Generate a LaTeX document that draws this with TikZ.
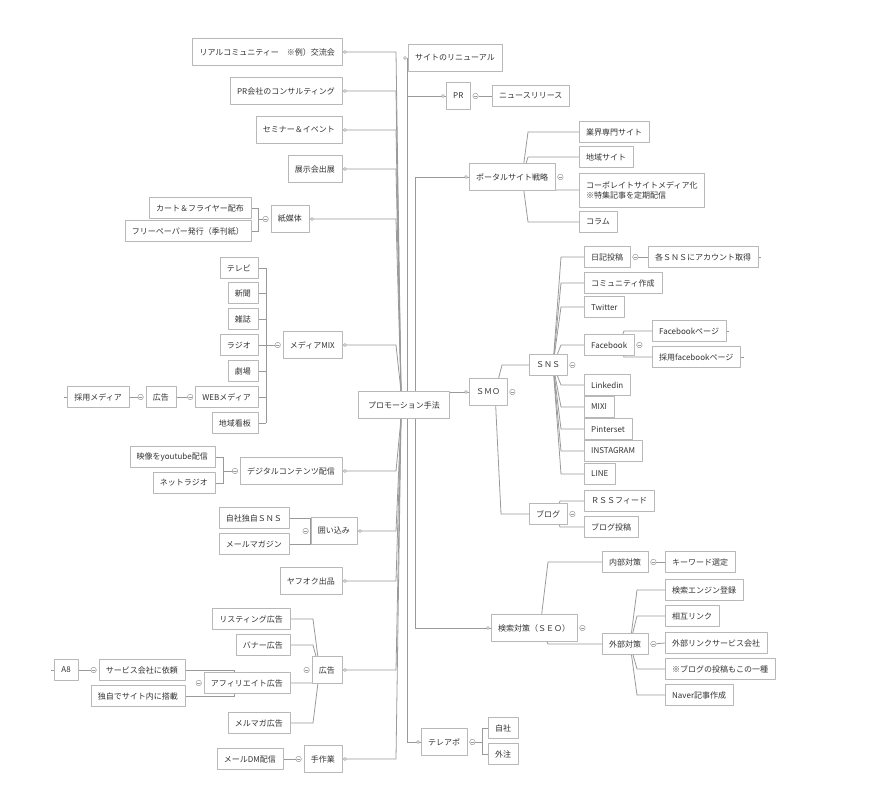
\documentclass[tikz,border=0pt]{standalone}
\usepackage{fontspec}
\newfontfamily\cjk{Noto Sans CJK JP}
\usetikzlibrary{calc}
\pgfdeclarelayer{background}
\pgfsetlayers{background,main}
\definecolor{linegray}{HTML}{9A9A9A}
\definecolor{boxgray}{HTML}{B8B8B8}
\definecolor{textgray}{HTML}{333333}

\begin{document}
\begin{tikzpicture}[x=1pt,y=-1pt,line join=round,line cap=round,
    box/.style={draw=boxgray,fill=white,text=textgray,font={\cjk\fontsize{8}{10}\selectfont},
      inner xsep=7pt,inner ysep=2pt,minimum height=21pt},
    topic/.style={box,minimum height=27pt},
    edge/.style={draw=linegray,line width=0.8pt},
    fold/.style={circle,draw=linegray,fill=white,line width=0.5pt,inner sep=0pt,minimum size=5.5pt,
      path picture={\draw[linegray,line width=0.5pt]
        ([xshift=-1.5pt]path picture bounding box.center) -- ([xshift=1.5pt]path picture bounding box.center);}},
    port/.style={circle,draw=linegray,fill=white,line width=0.5pt,inner sep=0pt,minimum size=3pt}]
  \useasboundingbox (0,0) rectangle (871,792);

  % centre
  \node[topic,minimum width=91pt] (root) at (404,405) {プロモーション手法};

  % left side
  \node[topic,anchor=east] (real) at (342,52) {リアルコミュニティー　※例）交流会};
  \node[topic,anchor=east] (consult) at (342,91) {PR会社のコンサルティング};
  \node[topic,anchor=east] (seminar) at (342,130) {セミナー＆イベント};
  \node[topic,anchor=east] (expo) at (342,169) {展示会出展};
  \node[topic,anchor=east] (paper) at (309,219) {紙媒体};
  \node[topic,anchor=east] (mix) at (342,345) {メディアMIX};
  \node[topic,anchor=east] (digital) at (342,471) {デジタルコンテンツ配信};
  \node[topic,anchor=east] (enclose) at (357,531) {囲い込み};
  \node[topic,anchor=east] (auction) at (342,581) {ヤフオク出品};
  \node[topic,anchor=east] (ads) at (342,670) {広告};
  \node[topic,anchor=east] (manual) at (342,759) {手作業};

  \node[box,anchor=east] (flyer) at (251,208) {カート＆フライヤー配布};
  \node[box,anchor=east] (freepaper) at (251,231) {フリーペーパー発行（季刊紙）};

  \node[box,anchor=east] (tv) at (258,268) {テレビ};
  \node[box,anchor=east] (news) at (258,293) {新聞};
  \node[box,anchor=east] (magazine) at (258,319) {雑誌};
  \node[box,anchor=east] (radio) at (258,345) {ラジオ};
  \node[box,anchor=east] (theater) at (258,371) {劇場};
  \node[box,anchor=east] (webmedia) at (258,397) {WEBメディア};
  \node[box,anchor=east] (signboard) at (258,423) {地域看板};
  \node[box,anchor=east] (webad) at (176,397) {広告};
  \node[box,anchor=east] (recruit) at (129,397) {採用メディア};

  \node[box,anchor=east] (youtube) at (215,457) {映像をyoutube配信};
  \node[box,anchor=east] (netradio) at (215,483) {ネットラジオ};

  \node[box,anchor=east] (ownsns) at (289,518) {自社独自ＳＮＳ};
  \node[box,anchor=east] (mailmag) at (289,544) {メールマガジン};

  \node[box,anchor=east] (listing) at (290,619) {リスティング広告};
  \node[box,anchor=east] (banner) at (290,645) {バナー広告};
  \node[box,anchor=east] (affiliate) at (290,683) {アフィリエイト広告};
  \node[box,anchor=east] (mailad) at (290,723) {メルマガ広告};
  \node[box,anchor=east] (agency) at (185,670) {サービス会社に依頼};
  \node[box,anchor=east] (inhouse) at (185,696) {独自でサイト内に搭載};
  \node[box,anchor=east] (aeight) at (78,670) {A8};

  \node[box,anchor=east] (dm) at (283,759) {メールDM配信};

  % right side
  \node[topic,anchor=west] (renewal) at (408,58) {サイトのリニューアル};
  \node[topic,anchor=west] (pr) at (446,96) {PR};
  \node[topic,anchor=west] (portal) at (469,177) {ポータルサイト戦略};
  \node[topic,anchor=west] (smo) at (469,392) {ＳＭＯ};
  \node[topic,anchor=west] (seo) at (491,628) {検索対策（ＳＥＯ）};
  \node[topic,anchor=west] (teleapo) at (421,742) {テレアポ};

  \node[box,anchor=west] (release) at (492,96) {ニュースリリース};
  \node[box,anchor=west] (trade) at (579,132) {業界専門サイト};
  \node[box,anchor=west] (region) at (579,157) {地域サイト};
  \node[box,anchor=west,align=left,minimum height=34pt] (corporate) at (579,190)
    {コーポレイトサイトメディア化\\※特集記事を定期配信};
  \node[box,anchor=west] (column) at (579,222) {コラム};

  \node[box,anchor=west] (sns) at (529,365) {ＳＮＳ};
  \node[box,anchor=west] (blog) at (529,514) {ブログ};
  \node[box,anchor=west] (diary) at (584,257) {日記投稿};
  \node[box,anchor=west] (community) at (584,283) {コミュニティ作成};
  \node[box,anchor=west] (twitter) at (584,307) {Twitter};
  \node[box,anchor=west] (facebook) at (584,345) {Facebook};
  \node[box,anchor=west] (linkedin) at (584,385) {Linkedin};
  \node[box,anchor=west] (mixi) at (584,407) {MIXI};
  \node[box,anchor=west] (pinterest) at (584,429) {Pinterset};
  \node[box,anchor=west] (instagram) at (584,451) {INSTAGRAM};
  \node[box,anchor=west] (lineapp) at (584,474) {LINE};
  \node[box,anchor=west] (account) at (648,257) {各ＳＮＳにアカウント取得};
  \node[box,anchor=west] (fbpage) at (652,331) {Facebookページ};
  \node[box,anchor=west] (fbrecruit) at (652,357) {採用facebookページ};
  \node[box,anchor=west] (rss) at (584,501) {ＲＳＳフィード};
  \node[box,anchor=west] (post) at (584,527) {ブログ投稿};

  \node[box,anchor=west] (inner) at (602,562) {内部対策};
  \node[box,anchor=west] (outer) at (602,644) {外部対策};
  \node[box,anchor=west] (keyword) at (665,562) {キーワード選定};
  \node[box,anchor=west] (engine) at (665,590) {検索エンジン登録};
  \node[box,anchor=west] (mutual) at (665,616) {相互リンク};
  \node[box,anchor=west] (linksvc) at (665,643) {外部リンクサービス会社};
  \node[box,anchor=west] (blogpost) at (665,669) {※ブログの投稿もこの一種};
  \node[box,anchor=west] (naver) at (665,695) {Naver記事作成};

  \node[box,anchor=west] (ownco) at (488,728) {自社};
  \node[box,anchor=west] (outsource) at (488,754) {外注};

  % folds and ports
  \foreach \n in {paper,mix,webmedia,webad,digital,enclose,ads,affiliate,agency,manual}
    \node[fold] (f-\n) at ([xshift=-5pt]\n.west) {};
  \foreach \n in {pr,portal,smo,sns,diary,facebook,blog,seo,inner,outer,teleapo}
    \node[fold] (f-\n) at ([xshift=5pt]\n.east) {};
  \foreach \n in {real,consult,seminar,expo,paper,mix,digital,enclose,auction,ads,manual}
    \node[port] at ([xshift=3pt]\n.east) {};
  \foreach \n in {renewal,pr,portal,smo,seo,teleapo}
    \node[port] at ([xshift=-3pt]\n.west) {};

  \begin{pgfonlayer}{background}
    % from the centre
    \coordinate (lbus) at (396,0);
    \coordinate (rbus) at (407,0);
    \coordinate (sbus) at (415,0);
    \foreach \n in {real,consult,seminar,expo,paper,mix}
      \draw[edge] ([xshift=-3pt]root.north) -- (lbus |- \n.east) -- (\n.east);
    \foreach \n in {digital,enclose,auction,ads,manual}
      \draw[edge] ([xshift=-3pt]root.south) -- (lbus |- \n.east) -- (\n.east);
    \foreach \n in {renewal,pr}
      \draw[edge] (rbus |- root.north) -- (rbus |- \n.west) -- (\n.west);
    \draw[edge] (sbus |- root.north) -- (sbus |- portal.west) -- (portal.west);
    \draw[edge] (sbus |- smo.west) -- (smo.west);
    \draw[edge] (sbus |- root.south) -- (sbus |- seo.west) -- (seo.west);
    \draw[edge] (rbus |- root.south) -- (rbus |- teleapo.west) -- (teleapo.west);

    % left branches
    \coordinate (pb) at ([xshift=7pt]flyer.east);
    \draw[edge] (flyer.east) -- (pb) -- (pb |- freepaper.east) -- (freepaper.east);
    \draw[edge] (pb |- f-paper) -- (f-paper);

    \coordinate (mb) at ([xshift=8pt]tv.east);
    \foreach \n in {tv,news,magazine,radio,theater,webmedia,signboard}
      \draw[edge] (\n.east) -- (mb |- \n.east);
    \draw[edge] (mb |- tv.east) -- (mb |- signboard.east);
    \draw[edge] (mb |- f-mix) -- (f-mix);
    \draw[edge] (webad.east) -- (f-webmedia);
    \draw[edge] (recruit.east) -- (f-webad);
    \draw[edge] (recruit.west) -- ++(-3,0);

    \coordinate (db) at ([xshift=8pt]youtube.east);
    \draw[edge] (youtube.east) -- (db) -- (db |- netradio.east) -- (netradio.east);
    \draw[edge] (db |- f-digital) -- (f-digital);

    \foreach \n in {ownsns,mailmag}
      \draw[edge] (\n.east) -- (enclose.west |- \n.east);
    \draw[edge] (enclose.west |- ownsns.east) -- (enclose.west |- mailmag.east);

    \coordinate (ab) at (313,0);
    \foreach \n in {listing,banner,affiliate,mailad}
      \draw[edge] ([xshift=8pt]ads.west) -- (ab |- \n.east) -- (\n.east);
    \coordinate (fb) at (234,0);
    \foreach \n in {agency,inhouse}
      \draw[edge] (\n.east) -- (fb |- \n.east) -- (fb |- affiliate.east);
    \draw[edge] (aeight.east) -- (f-agency);
    \draw[edge] (aeight.west) -- ++(-3,0);
    \draw[edge] (dm.east) -- (f-manual);

    % right branches
    \draw[edge] (f-pr) -- (release.west);
    \coordinate (ps) at (522,177);
    \foreach \n in {trade,region,corporate,column}
      \draw[edge] (ps) -- (528,0 |- \n.west) -- (\n.west);

    \draw[edge] (495,392) -- (502,0 |- sns.west) -- (sns.west);
    \draw[edge] (495,392) -- (501,0 |- blog.west) -- (blog.west);
    \foreach \n in {diary,community,twitter,facebook,linkedin,mixi,pinterest,instagram,lineapp}
      \draw[edge] (553,365) -- (561,0 |- \n.west) -- (\n.west);
    \draw[edge] (f-diary) -- (account.west);
    \draw[edge] (account.east) -- ++(3,0);
    \foreach \n in {fbpage,fbrecruit}
      {\draw[edge] (619,345) -- (624,0 |- \n.west) -- (\n.west);
       \draw[edge] (\n.east) -- ++(3,0);}
    \foreach \n in {rss,post}
      \draw[edge] (556,514) -- (560,0 |- \n.west) -- (\n.west);

    \foreach \n in {inner,outer}
      \draw[edge] (540,628) -- (548,0 |- \n.west) -- (\n.west);
    \draw[edge] (f-inner) -- (keyword.west);
    \foreach \n in {engine,mutual,blogpost,naver}
      \draw[edge] (630,644) -- (637,0 |- \n.west) -- (\n.west);
    \draw[edge] (f-outer) -- (linksvc.west);

    \coordinate (tb) at (482,0);
    \draw[edge] (f-teleapo) -- (tb |- f-teleapo);
    \draw[edge] (ownco.west) -- (tb |- ownco.west) -- (tb |- outsource.west) -- (outsource.west);
  \end{pgfonlayer}
\end{tikzpicture}
\end{document}
